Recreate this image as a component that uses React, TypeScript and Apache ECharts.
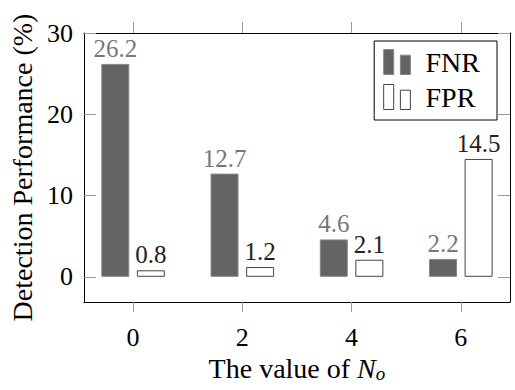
import React, { useEffect, useRef } from "react";
import * as echarts from "echarts";

const xValues = [0, 2, 4, 6];
const fnrValues = [26.2, 12.7, 4.6, 2.2];
const fprValues = [0.8, 1.2, 2.1, 14.5];
const xTicks = [0, 2, 4, 6];
const yTicks = [0, 10, 20, 30];
const seriesNames = ["FNR", "FPR"];

const FONT = "Liberation Serif";
const ICON = "path://M0,0H10V25H0Z M16.7,5.7H26.7V25H16.7Z";

export default function App() {
  const ref = useRef<HTMLDivElement>(null);
  useEffect(() => {
    if (!ref.current) return;
    const chart = echarts.init(ref.current, undefined, { renderer: "svg" });
    const tickLabel = { fontFamily: FONT, fontSize: 26, color: "#000" };
    const frameLine = { show: true, onZero: false, lineStyle: { color: "#000", width: 1 } };
    const barLabel = (color: string) => ({
      show: true,
      position: "top",
      distance: 3,
      formatter: (p: any) => String(p.value[1]),
      fontFamily: FONT,
      fontSize: 25,
      color,
    });
    chart.setOption({
      animation: false,
      backgroundColor: "#fff",
      textStyle: { fontFamily: FONT },
      grid: { left: 83, top: 33, right: 5, bottom: 88, containLabel: false },
      legend: {
        orient: "vertical",
        right: 18,
        top: 41,
        padding: [7, 17, 9, 9],
        itemGap: 7,
        itemWidth: 27,
        itemHeight: 25,
        borderColor: "#000",
        borderWidth: 1,
        backgroundColor: "#fff",
        textStyle: { fontFamily: FONT, fontSize: 28, color: "#000", padding: [0, 0, 0, 10] },
        data: [
          { name: seriesNames[0], icon: ICON, itemStyle: { color: "#636363", borderColor: "#888", borderWidth: 1 } },
          { name: seriesNames[1], icon: ICON, itemStyle: { color: "#fff", borderColor: "#444", borderWidth: 1 } },
        ],
      },
      xAxis: [
        {
          type: "value",
          position: "bottom",
          min: -0.9,
          max: 6.9,
          splitLine: { show: false },
          axisLine: frameLine,
          axisTick: { show: true, customValues: xTicks, length: 10, inside: false, lineStyle: { color: "#999" } },
          axisLabel: { customValues: xTicks, margin: 22, ...tickLabel },
          name: "The value of {n|N}{s|o}",
          nameLocation: "middle",
          nameGap: 43,
          nameTextStyle: {
            fontFamily: FONT,
            fontSize: 28,
            color: "#000",
            rich: {
              n: { fontFamily: FONT, fontSize: 28, fontStyle: "italic", color: "#000" },
              s: { fontFamily: FONT, fontSize: 19, fontStyle: "italic", color: "#000", padding: [10, 0, 0, 0] },
            },
          },
        },
        {
          type: "value",
          position: "top",
          min: -0.9,
          max: 6.9,
          splitLine: { show: false },
          axisLine: frameLine,
          axisTick: { show: true, customValues: xTicks, length: 11, inside: false, lineStyle: { color: "#999" } },
          axisLabel: { show: false },
        },
      ],
      yAxis: [
        {
          type: "value",
          position: "left",
          min: -3.1,
          max: 30,
          splitLine: { show: false },
          axisLine: frameLine,
          axisTick: { show: true, customValues: yTicks, length: 12, inside: true, lineStyle: { color: "#999" } },
          axisLabel: { customValues: yTicks, margin: 11, ...tickLabel },
          name: "Detection Performance (%)",
          nameLocation: "middle",
          nameGap: 47,
          nameTextStyle: { fontFamily: FONT, fontSize: 28, color: "#000" },
        },
        {
          type: "value",
          position: "right",
          min: -3.1,
          max: 30,
          splitLine: { show: false },
          axisLine: frameLine,
          axisTick: { show: true, customValues: yTicks, length: 12, inside: true, lineStyle: { color: "#999" } },
          axisLabel: { show: false },
        },
      ],
      series: [
        {
          name: seriesNames[0],
          type: "bar",
          xAxisIndex: 0,
          yAxisIndex: 0,
          barWidth: 28,
          barGap: "27%",
          data: xValues.map((x, i) => [x, fnrValues[i]]),
          itemStyle: { color: "#636363", borderColor: "#888", borderWidth: 1 },
          label: barLabel("#777"),
        },
        {
          name: seriesNames[1],
          type: "bar",
          xAxisIndex: 0,
          yAxisIndex: 0,
          barWidth: 28,
          barGap: "27%",
          data: xValues.map((x, i) => [x, fprValues[i]]),
          itemStyle: { color: "#fff", borderColor: "#444", borderWidth: 1 },
          label: barLabel("#222"),
        },
      ],
    });
    return () => chart.dispose();
  }, []);
  return (
    <div
      ref={ref}
      style={{ position: "fixed", left: 0, top: 0, width: 515, height: 390, background: "#fff" }}
    />
  );
}
